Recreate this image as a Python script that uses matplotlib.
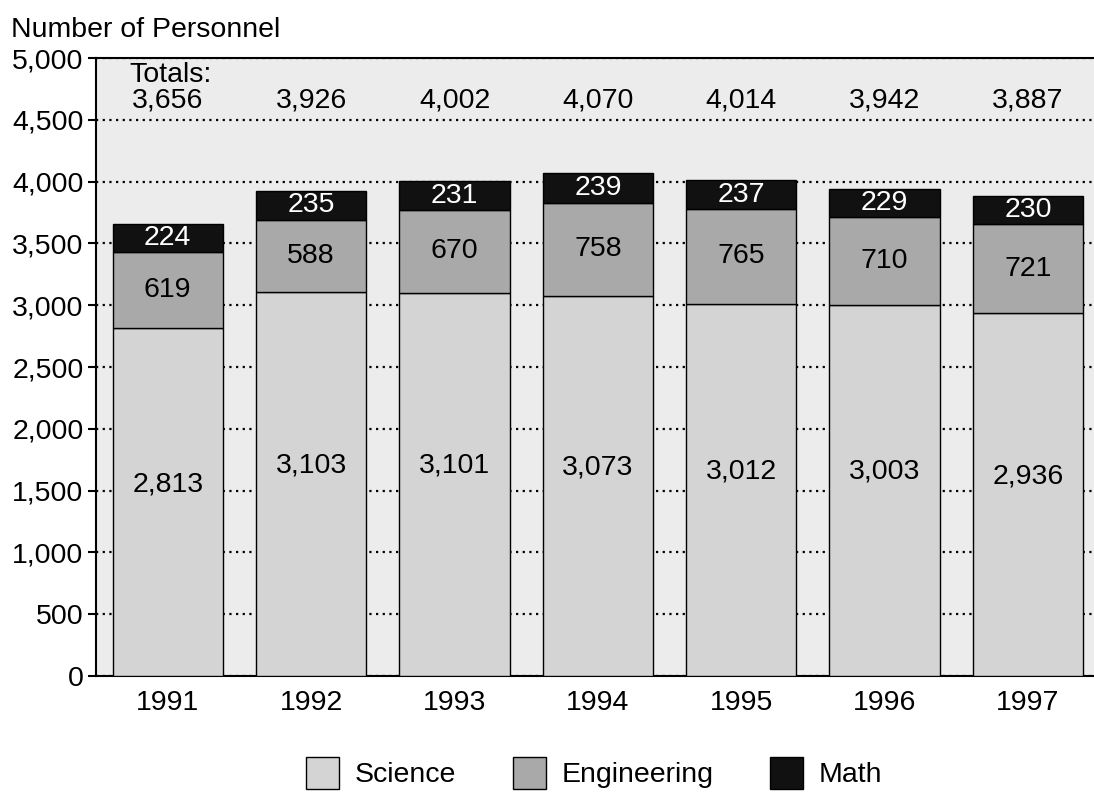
import numpy as np
import matplotlib.pyplot as plt
from matplotlib.patches import Patch

plt.rcParams['font.family'] = ['Liberation Sans', 'DejaVu Sans']

years = ['1991', '1992', '1993', '1994', '1995', '1996', '1997']
science = np.array([2813, 3103, 3101, 3073, 3012, 3003, 2936])
engineering = np.array([619, 588, 670, 758, 765, 710, 721])
math_ = np.array([224, 235, 231, 239, 237, 229, 230])
totals = [3656, 3926, 4002, 4070, 4014, 3942, 3887]

c_sci = '#d4d4d4'
c_eng = '#a9a9a9'
c_math = '#111111'
bg = '#ececec'

fig = plt.figure(figsize=(10.94, 7.95), dpi=100)
ax = fig.add_axes([0.0878, 0.1497, 0.9122, 0.7773])
ax.set_facecolor(bg)

x = np.arange(len(years))
w = 0.77
ax.bar(x, science, w, color=c_sci, edgecolor='black', linewidth=1, zorder=3)
ax.bar(x, engineering, w, bottom=science, color=c_eng, edgecolor='black', linewidth=1, zorder=3)
ax.bar(x, math_, w, bottom=science + engineering, color=c_math, edgecolor='black', linewidth=1, zorder=3)

fs = 20.5
for i in range(len(years)):
    ax.text(x[i], science[i] * 0.55, f'{science[i]:,}', ha='center', va='center', fontsize=fs, zorder=4)
    ax.text(x[i], science[i] + engineering[i] / 2, f'{engineering[i]:,}', ha='center', va='center', fontsize=fs, zorder=4)
    ax.text(x[i], science[i] + engineering[i] + math_[i] / 2, f'{math_[i]:,}', ha='center', va='center',
            fontsize=fs, color='white', zorder=4)
    ax.text(x[i], 4655, f'{totals[i]:,}', ha='center', va='center', fontsize=fs, zorder=4)
ax.text(-0.27, 4860, 'Totals:', ha='left', va='center', fontsize=fs, zorder=4)

ax.set_xlim(-0.5, 6.46)
ax.set_ylim(0, 5000)
ax.set_yticks(np.arange(0, 5001, 500))
ax.set_yticklabels([f'{v:,}' for v in range(0, 5001, 500)], fontsize=fs)
ax.set_xticks(x)
ax.set_xticklabels(years, fontsize=fs)
ax.tick_params(axis='x', length=0, pad=10)
ax.tick_params(axis='y', length=6, width=1.5, pad=3)
ax.yaxis.grid(True, linestyle=(0, (1, 2)), color='black', linewidth=1.6, zorder=1)
ax.set_axisbelow(True)
for s in ['left', 'bottom', 'top']:
    ax.spines[s].set_linewidth(1.5)
ax.spines['right'].set_visible(False)

fig.text(0.01, 0.962, 'Number of Personnel', fontsize=fs, ha='left', va='center')

handles = [Patch(facecolor=c_sci, edgecolor='black', label='Science'),
           Patch(facecolor=c_eng, edgecolor='black', label='Engineering'),
           Patch(facecolor=c_math, edgecolor='black', label='Math')]
fig.legend(handles=handles, loc='center', bbox_to_anchor=(0.543, 0.028), ncol=3, frameon=False,
           fontsize=fs, handlelength=1.15, handleheight=1.35, columnspacing=2.0, handletextpad=0.55)

fig.savefig('out.png', dpi=100)
